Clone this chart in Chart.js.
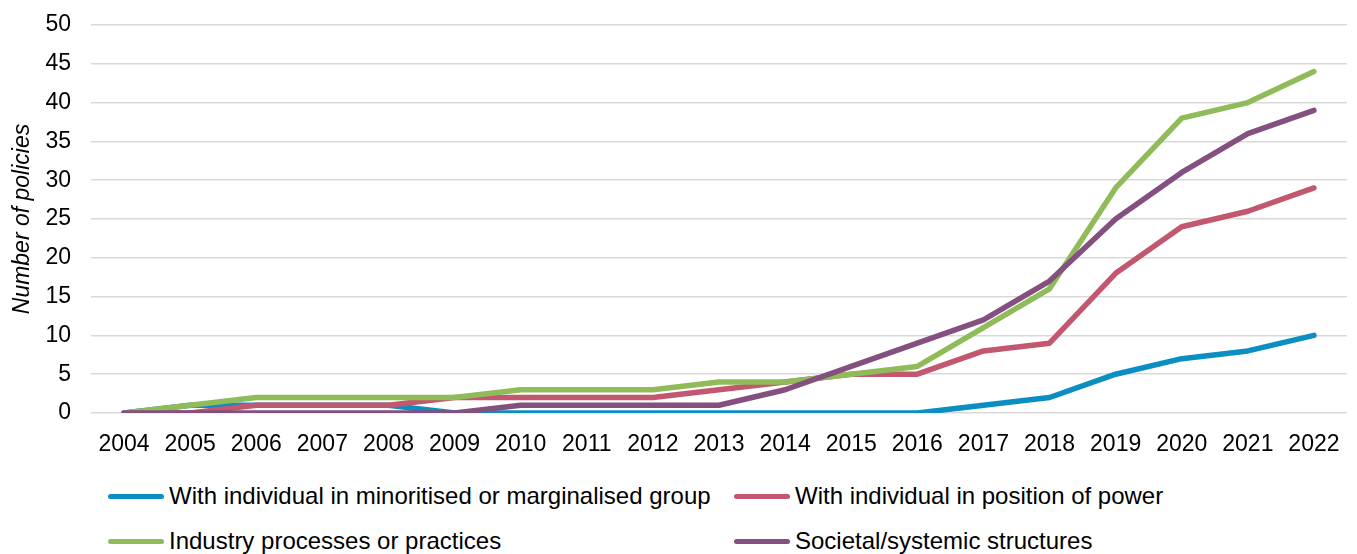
<!DOCTYPE html>
<html>
<head>
<meta charset="utf-8">
<script src="https://cdn.jsdelivr.net/npm/chart.js@4.4.1/dist/chart.umd.min.js"></script>
<style>
  html, body { margin: 0; padding: 0; background: #fff; }
  #wrap { position: relative; width: 1357px; height: 554px; font-family: "Liberation Sans", Arial, sans-serif; }
  #chartBox { position: absolute; left: 0; top: 0; width: 1357px; height: 470px; }
  .legend-item { position: absolute; display: flex; align-items: center; font-size: 24px; line-height: 28px; color: #000; white-space: nowrap; }
  .legend-item .swatch { width: 56px; height: 5px; border-radius: 3px; margin-right: 5px; }
</style>
</head>
<body>
<div id="wrap">
  <div id="chartBox"><canvas id="policyChart"></canvas></div>
  <div id="legend"></div>
</div>
<script>
  const years = ['2004', '2005', '2006', '2007', '2008', '2009', '2010', '2011', '2012', '2013',
                 '2014', '2015', '2016', '2017', '2018', '2019', '2020', '2021', '2022'];

  const minoritised = [0, 1, 1, 1, 1, 0, 0, 0, 0, 0, 0, 0, 0, 1, 2, 5, 7, 8, 10];
  const positionOfPower = [0, 0, 1, 1, 1, 2, 2, 2, 2, 3, 4, 5, 5, 8, 9, 18, 24, 26, 29];
  const industry = [0, 1, 2, 2, 2, 2, 3, 3, 3, 4, 4, 5, 6, 11, 16, 29, 38, 40, 44];
  const societal = [0, 0, 0, 0, 0, 0, 1, 1, 1, 1, 3, 6, 9, 12, 17, 25, 31, 36, 39];

  const seriesNames = [
    'With individual in minoritised or marginalised group',
    'With individual in position of power',
    'Industry processes or practices',
    'Societal/systemic structures'
  ];
  const seriesColors = ['#0b8fc3', '#c2576f', '#8fbb59', '#84507f'];

  // legend positions: two columns, two rows (top of each item)
  const legendSpots = [[108, 482], [734, 482], [108, 527], [734, 527]];

  const legendEl = document.getElementById('legend');
  seriesNames.forEach((name, i) => {
    const item = document.createElement('div');
    item.className = 'legend-item';
    item.style.left = legendSpots[i][0] + 'px';
    item.style.top = legendSpots[i][1] + 'px';
    item.innerHTML = `<span class="swatch" style="background:${seriesColors[i]}"></span><span>${name}</span>`;
    legendEl.appendChild(item);
  });

  function makeSet(i, data, order) {
    return {
      label: seriesNames[i],
      data: data,
      borderColor: seriesColors[i],
      backgroundColor: seriesColors[i],
      borderWidth: 5.5,
      pointRadius: 0,
      tension: 0,
      borderJoinStyle: 'round',
      borderCapStyle: 'round',
      order: order
    };
  }

  const tickFont = { family: '"Liberation Sans", Arial', size: 23 };

  const ctx = document.getElementById('policyChart').getContext('2d');
  new Chart(ctx, {
    type: 'line',
    data: {
      labels: years,
      datasets: [
        makeSet(0, minoritised, 3),
        makeSet(1, positionOfPower, 2),
        makeSet(2, industry, 1),
        makeSet(3, societal, 0)
      ]
    },
    options: {
      responsive: true,
      maintainAspectRatio: false,
      animation: false,
      layout: { padding: { top: 25, right: 10, left: 0, bottom: 0 } },
      plugins: {
        legend: { display: false },
        tooltip: { enabled: false }
      },
      scales: {
        x: {
          offset: true,
          afterFit: (scale) => { scale.height = 57; },
          grid: { display: false },
          border: { display: false },
          ticks: {
            color: '#000',
            font: tickFont,
            maxRotation: 0,
            autoSkip: false,
            padding: 10
          }
        },
        y: {
          min: 0,
          max: 50,
          afterFit: (scale) => {
            scale.width = 91;
            scale.paddingTop = 0;
            scale.paddingBottom = 0;
          },
          grid: { color: '#d9d9d9', lineWidth: 1.5, drawTicks: false },
          border: { display: false },
          ticks: {
            stepSize: 5,
            color: '#000',
            padding: 20,
            font: tickFont
          },
          title: {
            display: true,
            text: 'Number of policies',
            color: '#000',
            padding: { top: 9, bottom: 0 },
            font: { family: '"Liberation Sans", Arial', size: 23, style: 'italic' }
          }
        }
      }
    }
  });
</script>
</body>
</html>
